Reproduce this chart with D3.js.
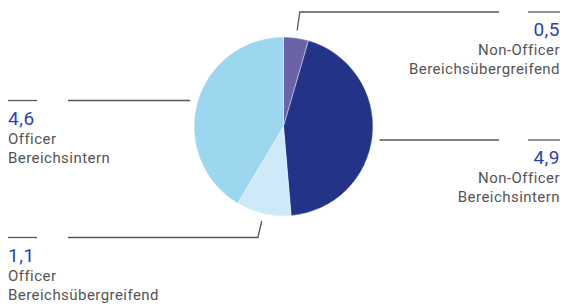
<!DOCTYPE html>
<html>
<head>
<meta charset="utf-8">
<script src="https://cdn.jsdelivr.net/npm/d3@7"></script>
<style>
  body { margin: 0; background: #fff; }
  svg text { font-family: Roboto, "Liberation Sans", sans-serif; }
</style>
</head>
<body>
<div id="viz"></div>
<script>
// data
var values = [0.5, 4.9, 1.1, 4.6];
var labelLine1 = ['Non-Officer', 'Non-Officer', 'Officer', 'Officer'];
var labelLine2 = ['Bereichsübergreifend', 'Bereichsintern', 'Bereichsübergreifend', 'Bereichsintern'];
var colors = ['#6a63a7', '#233488', '#ceeaf8', '#9dd6ef'];

// label layout: side, leader style and leader height
var sides = ['right', 'right', 'left', 'left'];
var leaderMode = ['radial', 'flat', 'radial', 'flat'];
var leaderY = [12, 140, 237.5, 100.5];

var width = 563, height = 304;
var cx = 283.5, cy = 126.5, radius = 89.5, rLead = 97;

var svg = d3.select('#viz').append('svg')
    .attr('width', width)
    .attr('height', height);

var pie = d3.pie().sort(null).value(function(d) { return d; });
var arcs = pie(values);

var arc = d3.arc().innerRadius(0).outerRadius(radius);

var g = svg.append('g')
    .attr('transform', 'translate(' + cx + ',' + cy + ')');

g.selectAll('path')
    .data(arcs)
    .enter()
    .append('path')
    .attr('d', arc)
    .attr('fill', function(d, i) { return colors[i]; })
    .attr('stroke', '#fff')
    .attr('stroke-width', 0.4);

var lineColor = '#555';
var leftX = 8, rightX = 560;

arcs.forEach(function(a, i) {
    var mid = (a.startAngle + a.endAngle) / 2;
    var ly = leaderY[i];
    var right = sides[i] == 'right';
    var pts = [];
    if (leaderMode[i] == 'radial') {
        // radial piece from the slice up to the leader height
        pts.push([cx + rLead * Math.sin(mid), cy - rLead * Math.cos(mid)]);
        var r1 = (cy - ly) / Math.cos(mid);
        pts.push([cx + r1 * Math.sin(mid), ly]);
    } else {
        var dx = Math.sqrt(rLead * rLead - (ly - cy) * (ly - cy));
        pts.push([right ? cx + dx : cx - dx, ly]);
    }
    pts.push([right ? 499 : 68, ly]);

    svg.append('path')
        .attr('d', d3.line()(pts))
        .attr('fill', 'none')
        .attr('stroke', lineColor)
        .attr('stroke-width', 1.3);

    // short rule above the value
    var sx = right ? [528, rightX] : [leftX, 37];
    svg.append('line')
        .attr('x1', sx[0]).attr('x2', sx[1])
        .attr('y1', ly).attr('y2', ly)
        .attr('stroke', lineColor)
        .attr('stroke-width', 1.3);

    var tx = right ? rightX : leftX;
    var anchor = right ? 'end' : 'start';
    var t = svg.append('g');
    t.append('text')
        .attr('x', tx).attr('y', ly + 24)
        .attr('text-anchor', anchor)
        .attr('fill', '#2b3fbe')
        .style('font-size', '19px')
        .style('letter-spacing', '0.5px')
        .text(d3.format('.1f')(values[i]).replace('.', ','));
    t.append('text')
        .attr('x', tx).attr('y', ly + 43)
        .attr('text-anchor', anchor)
        .attr('fill', '#555')
        .style('font-size', '15px')
        .style('letter-spacing', '0.45px')
        .text(labelLine1[i]);
    t.append('text')
        .attr('x', tx).attr('y', ly + 62)
        .attr('text-anchor', anchor)
        .attr('fill', '#555')
        .style('font-size', '15px')
        .style('letter-spacing', '0.45px')
        .text(labelLine2[i]);
});
</script>
</body>
</html>
